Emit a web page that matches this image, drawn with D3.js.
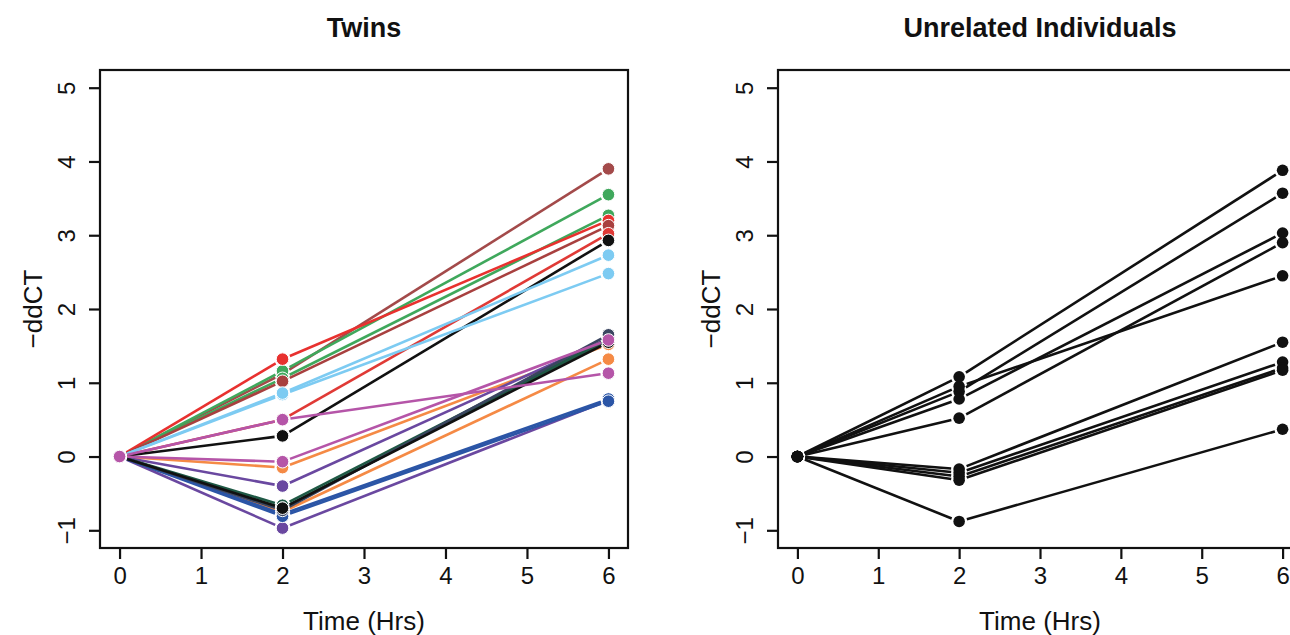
<!DOCTYPE html>
<html>
<head>
<meta charset="utf-8">
<script src="https://cdn.jsdelivr.net/npm/d3@7"></script>
<style>
  body { margin: 0; background: #fff; }
  text { font-family: "Liberation Sans", Arial, sans-serif; fill: #111; }
</style>
</head>
<body>
<div id="chart"></div>
<script>
// time points (hrs)
var times = [0, 2, 6];
var xTicks = [0, 1, 2, 3, 4, 5, 6];
var yTicks = [-1, 0, 1, 2, 3, 4, 5];

// twins: one colour per individual, -ddCT at 0, 2 and 6 hrs
var twinColours = ['#a34a4a', '#3fa85c', '#3fa85c', '#e8312f', '#a8403f', '#e03a36',
  '#111111', '#7dcbf2', '#7dcbf2', '#f58a45', '#f58a45', '#6a48a0', '#6a48a0',
  '#1f5945', '#1f5945', '#2b55a6', '#2b55a6', '#3a4560', '#111111', '#b555a8', '#b555a8'];
var twinAt0 = [0, 0, 0, 0, 0, 0, 0, 0, 0, 0, 0, 0, 0, 0, 0, 0, 0, 0, 0, 0, 0];
var twinAt2 = [1.12, 1.16, 1.06, 1.32, 1.02, 0.5, 0.28, 0.84, 0.86, -0.15, -0.75, -0.4, -0.97,
  -0.66, -0.7, -0.78, -0.81, -0.73, -0.7, 0.5, -0.07];
var twinAt6 = [3.9, 3.55, 3.27, 3.2, 3.13, 3.02, 2.93, 2.48, 2.73, 1.52, 1.32, 1.6, 0.76,
  1.6, 1.58, 0.78, 0.75, 1.65, 1.55, 1.13, 1.58];

// unrelated individuals
var unrelAt0 = [0, 0, 0, 0, 0, 0, 0, 0, 0, 0];
var unrelAt2 = [1.08, 0.88, 0.95, 0.78, 0.52, -0.17, -0.22, -0.27, -0.32, -0.88];
var unrelAt6 = [3.88, 3.57, 2.45, 3.03, 2.9, 1.55, 1.28, 1.2, 1.17, 0.37];

var svg = d3.select('#chart').append('svg')
  .attr('width', 1290)
  .attr('height', 635);

function panel(opts) {
  var x = d3.scaleLinear().domain([-0.24, 6.24]).range([opts.left, opts.right]);
  var y = d3.scaleLinear().domain([-1.24, 5.24]).range([548, 70]);
  var g = svg.append('g');

  // box
  g.append('rect')
    .attr('x', opts.left).attr('y', 70)
    .attr('width', opts.right - opts.left).attr('height', 478)
    .attr('fill', 'none').attr('stroke', '#111').attr('stroke-width', 2.2);

  // axes
  var xa = g.append('g').attr('transform', 'translate(0,548)')
    .call(d3.axisBottom(x).tickValues(xTicks).tickSize(11).tickPadding(8).tickFormat(d3.format('d')));
  var ya = g.append('g').attr('transform', 'translate(' + opts.left + ',0)')
    .call(d3.axisLeft(y).tickValues(yTicks).tickSize(11).tickPadding(0).tickFormat(d3.format('d')));
  [xa, ya].forEach(function (a) {
    a.select('.domain').remove();
    a.selectAll('line').attr('stroke', '#111').attr('stroke-width', 2.2);
    a.selectAll('text').attr('font-size', null).style('font-size', '24px').attr('fill', '#111');
  });
  xa.attr('font-size', null);
  ya.attr('font-size', null);
  xa.selectAll('text').attr('dy', '0.72em');
  ya.selectAll('text')
    .attr('x', null).attr('dy', null)
    .attr('transform', 'translate(-34,0) rotate(-90)')
    .attr('text-anchor', 'middle').attr('dominant-baseline', 'central');

  // title and labels
  g.append('text').attr('x', (opts.left + opts.right) / 2).attr('y', 37)
    .attr('text-anchor', 'middle').style('font-size', '27px').style('font-weight', 'bold')
    .text(opts.title);
  g.append('text').attr('x', x(3)).attr('y', 630)
    .attr('text-anchor', 'middle').style('font-size', '26px').text('Time (Hrs)');
  g.append('text').attr('transform', 'translate(' + (opts.left - 67) + ',' + y(2) + ') rotate(-90)')
    .attr('text-anchor', 'middle').attr('dominant-baseline', 'central')
    .style('font-size', '26px').text('\u2212ddCT');

  // series: lines with gaps around points (type = "b")
  var gap = 8;
  opts.v0.forEach(function (d, i) {
    var vals = [opts.v0[i], opts.v2[i], opts.v6[i]];
    var pts = times.map(function (t, k) { return [x(t), y(vals[k])]; });
    var col = opts.colours ? opts.colours[i] : '#111';
    for (var k = 0; k < pts.length - 1; k++) {
      var a = pts[k], b = pts[k + 1];
      var dx = b[0] - a[0], dy = b[1] - a[1];
      var len = Math.sqrt(dx * dx + dy * dy);
      if (len <= 2 * gap) continue;
      var ux = dx / len, uy = dy / len;
      g.append('line')
        .attr('x1', a[0] + ux * gap).attr('y1', a[1] + uy * gap)
        .attr('x2', b[0] - ux * gap).attr('y2', b[1] - uy * gap)
        .attr('stroke', col).attr('stroke-width', 2.6);
    }
    g.selectAll(null).data(pts).enter().append('circle')
      .attr('cx', function (p) { return p[0]; })
      .attr('cy', function (p) { return p[1]; })
      .attr('r', opts.r)
      .attr('fill', col)
      .attr('stroke', opts.colours ? '#fff' : 'none')
      .attr('stroke-width', 1);
  });
}

panel({ left: 100, right: 628, title: 'Twins', v0: twinAt0, v2: twinAt2, v6: twinAt6, colours: twinColours, r: 6.3 });
panel({ left: 778, right: 1302, title: 'Unrelated Individuals', v0: unrelAt0, v2: unrelAt2, v6: unrelAt6, colours: null, r: 5.8 });
</script>
</body>
</html>
